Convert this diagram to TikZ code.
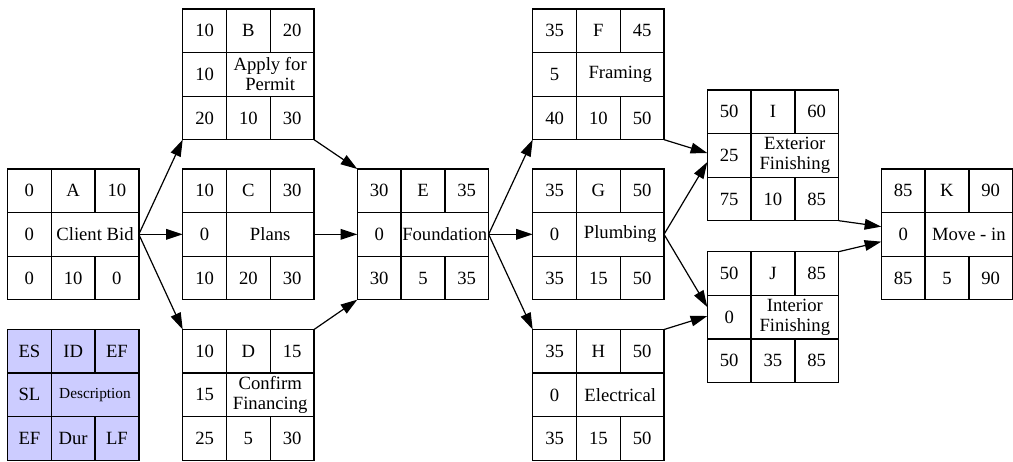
\documentclass[tikz,border=0pt]{standalone}
\usepackage{fontspec}
\setmainfont{Liberation Serif}
\usetikzlibrary{arrows.meta,calc}

% one grid unit = one pixel of the layout, y grows downwards
\tikzset{
  taskbox/.style={draw, line width=1pt, inner sep=0pt, outer sep=0pt,
    minimum width=98.5pt, minimum height=98pt, anchor=north west},
  gridline/.style={line width=1pt},
  celltext/.style={inner sep=0pt, align=center,
    font=\rmfamily\fontsize{14}{15}\selectfont},
  legendbox/.style={fill=legendblue},
  edge/.style={line width=0.9pt, -{Triangle[length=12.5pt,width=8pt]}},
}
\definecolor{legendblue}{RGB}{204,204,255}

% rows of a task box: #1 task name, then the cell texts
\newcommand\toprow[4]{%
  \node[celltext] (#1-es) at ($(#1.north west)+(21.9,21.8)$) {#2};
  \node[celltext] (#1-id) at ($(#1.north west)+(65.65,21.8)$) {#3};
  \node[celltext] (#1-ef) at ($(#1.north west)+(109.4,21.8)$) {#4};}
\newcommand\middlerow[3]{%
  \node[celltext] (#1-sl) at ($(#1.north west)+(21.9,65.4)$) {#2};
  \node[celltext] (#1-desc) at ($(#1.north west)+(87.5,65.4)$) {#3};}
\newcommand\bottomrow[4]{%
  \node[celltext] (#1-ls) at ($(#1.north west)+(21.9,109)$) {#2};
  \node[celltext] (#1-dur) at ($(#1.north west)+(65.65,109)$) {#3};
  \node[celltext] (#1-lf) at ($(#1.north west)+(109.4,109)$) {#4};}

% #1 name, #2 extra style, #3 top-left corner, #4 top row, #5 middle row, #6 bottom row
\newcommand\tasknode[6]{%
  \node[taskbox,#2] (#1) at (#3) {};
  \draw[gridline] ($(#1.north west)+(0,43.6)$) -- ($(#1.north east)+(0,43.6)$);
  \draw[gridline] ($(#1.north west)+(0,87.2)$) -- ($(#1.north east)+(0,87.2)$);
  \draw[gridline] ($(#1.north west)+(43.77,0)$) -- ($(#1.south west)+(43.77,0)$);
  \draw[gridline] ($(#1.north west)+(87.53,0)$) -- ($(#1.north west)+(87.53,43.6)$);
  \draw[gridline] ($(#1.north west)+(87.53,87.2)$) -- ($(#1.south west)+(87.53,0)$);
  \toprow{#1}#4
  \middlerow{#1}#5
  \bottomrow{#1}#6}

\begin{document}
\begin{tikzpicture}[x=0.75pt, y=-0.75pt]
\useasboundingbox (0,0) rectangle (1013,461);

\tasknode{A}{}{7.5,169}{{0}{A}{10}}{{0}{Client Bid}}{{0}{10}{0}}
\tasknode{L}{legendbox}{7.5,329.5}{{ES}{ID}{EF}}{{SL}{\fontsize{11.5}{12}\selectfont Description}}{{EF}{Dur}{LF}}
\tasknode{B}{}{182.7,9}{{10}{B}{20}}{{10}{Apply for\\Permit}}{{20}{10}{30}}
\tasknode{C}{}{182.7,169}{{10}{C}{30}}{{0}{Plans}}{{10}{20}{30}}
\tasknode{D}{}{182.7,329.5}{{10}{D}{15}}{{15}{Confirm\\Financing}}{{25}{5}{30}}
\tasknode{E}{}{357.3,169}{{30}{E}{35}}{{0}{Foundation}}{{30}{5}{35}}
\tasknode{F}{}{532.7,9}{{35}{F}{45}}{{5}{Framing}}{{40}{10}{50}}
\tasknode{G}{}{532.7,169}{{35}{G}{50}}{{0}{Plumbing}}{{35}{15}{50}}
\tasknode{H}{}{532.7,329.5}{{35}{H}{50}}{{0}{Electrical}}{{35}{15}{50}}
\tasknode{I}{}{707.3,90}{{50}{I}{60}}{{25}{Exterior\\Finishing}}{{75}{10}{85}}
\tasknode{J}{}{707.3,251.7}{{50}{J}{85}}{{0}{Interior\\Finishing}}{{50}{35}{85}}
\tasknode{K}{}{881.3,169}{{85}{K}{90}}{{0}{Move - in}}{{85}{5}{90}}

% dependencies
\draw[edge] (A.east) -- (B.south west);
\draw[edge] (A.east) -- (C.west);
\draw[edge] (A.east) -- (D.north west);
\draw[edge] (B.south east) -- (E.north west);
\draw[edge] (C.east) -- (E.west);
\draw[edge] (D.north east) -- (E.south west);
\draw[edge] (E.east) -- (F.south west);
\draw[edge] (E.east) -- (G.west);
\draw[edge] (E.east) -- (H.north west);
\draw[edge] (F.south east) -- ($(I.west)+(0,-2.3)$);
\draw[edge] (G.east) -- ($(I.west)+(0,6.7)$);
\draw[edge] (G.east) -- ($(J.west)+(0,-10)$);
\draw[edge] (H.north east) -- ($(J.west)+(0,-1)$);
\draw[edge] (I.south east) -- ($(K.west)+(0,-7.7)$);
\draw[edge] (J.north east) -- ($(K.west)+(0,7.3)$);
\end{tikzpicture}
\end{document}
